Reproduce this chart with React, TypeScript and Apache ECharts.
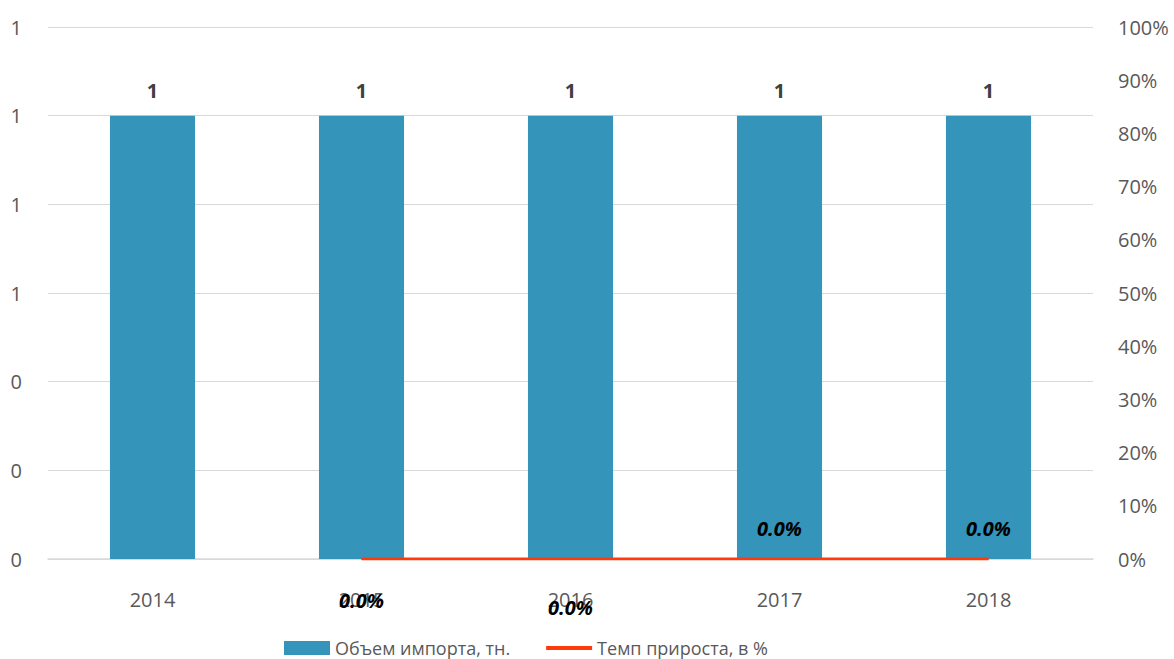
import React, { useEffect, useRef } from "react";
import * as echarts from "echarts";

const categories = ["2014", "2015", "2016", "2017", "2018"];
const importVolume = [1, 1, 1, 1, 1];
const growthRate: (number | null)[] = [null, 0, 0, 0, 0];
const leftTicks = { min: 0, max: 1.2, interval: 0.2 };
const rightTicks = { min: 0, max: 1, interval: 0.1 };

const FONT = "'Open Sans', 'Noto Sans', sans-serif";

export default function App() {
  const ref = useRef<HTMLDivElement>(null);
  useEffect(() => {
    if (!ref.current) return;
    const chart = echarts.init(ref.current, null, { renderer: "svg" });
    const labelPlacement = [
      null,
      { position: "bottom", distance: 31 },
      { position: "bottom", distance: 38 },
      { position: "top", distance: 20 },
      { position: "top", distance: 20 },
    ];
    chart.setOption({
      animation: false,
      textStyle: { fontFamily: FONT },
      grid: { left: 48, right: 81, top: 27, bottom: 100, containLabel: false },
      legend: {
        bottom: -3,
        left: 279,
        itemGap: 36,
        itemWidth: 46,
        itemHeight: 14,
        textStyle: { color: "#595959", fontSize: 18, fontFamily: FONT, padding: [0, 0, 0, 0] },
        data: [
          { name: "Объем импорта, тн.", icon: "rect" },
          { name: "Темп прироста, в %", icon: "path://M0,0 H48 V4 H0 Z" },
        ],
      },
      xAxis: {
        type: "category",
        data: categories,
        axisTick: { show: false },
        axisLine: { lineStyle: { color: "#d9d9d9", width: 1.5 } },
        axisLabel: { color: "#595959", fontSize: 20, margin: 30, fontFamily: FONT },
      },
      yAxis: [
        {
          type: "value",
          min: leftTicks.min,
          max: leftTicks.max,
          interval: leftTicks.interval,
          axisLine: { show: false },
          axisTick: { show: false },
          splitLine: { lineStyle: { color: "#d9d9d9", width: 1 } },
          axisLabel: {
            color: "#595959",
            fontSize: 20,
            margin: 26,
            fontFamily: FONT,
            formatter: (v: number) => String(Math.round(v)),
          },
        },
        {
          type: "value",
          min: rightTicks.min,
          max: rightTicks.max,
          interval: rightTicks.interval,
          axisLine: { show: false },
          axisTick: { show: false },
          splitLine: { show: false },
          axisLabel: {
            color: "#595959",
            fontSize: 20,
            margin: 25,
            fontFamily: FONT,
            formatter: (v: number) => Math.round(v * 100) + "%",
          },
        },
      ],
      series: [
        {
          name: "Объем импорта, тн.",
          type: "bar",
          data: importVolume,
          barWidth: "40.7%",
          itemStyle: { color: "#3494BA" },
          label: {
            show: true,
            position: "top",
            distance: 15,
            color: "#404040",
            fontWeight: "bold",
            fontSize: 20,
            fontFamily: FONT,
            formatter: (p: any) => String(Math.round(p.value)),
          },
        },
        {
          name: "Темп прироста, в %",
          type: "line",
          yAxisIndex: 1,
          data: growthRate.map((v, i) =>
            v === null ? null : { value: v, label: labelPlacement[i] as any }
          ),
          symbol: "circle",
          symbolSize: 1,
          showSymbol: true,
          lineStyle: { color: "#FF3A0A", width: 3 },
          itemStyle: { color: "#FF3A0A" },
          label: {
            show: true,
            color: "#000000",
            fontWeight: "bold",
            fontStyle: "italic",
            fontSize: 20,
            fontFamily: FONT,
            formatter: (p: any) => (p.value * 100).toFixed(1) + "%",
          },
        },
      ],
    });
    return () => chart.dispose();
  }, []);
  return <div ref={ref} style={{ width: 1174, height: 659, position: "absolute", left: 0, top: 0 }} />;
}
